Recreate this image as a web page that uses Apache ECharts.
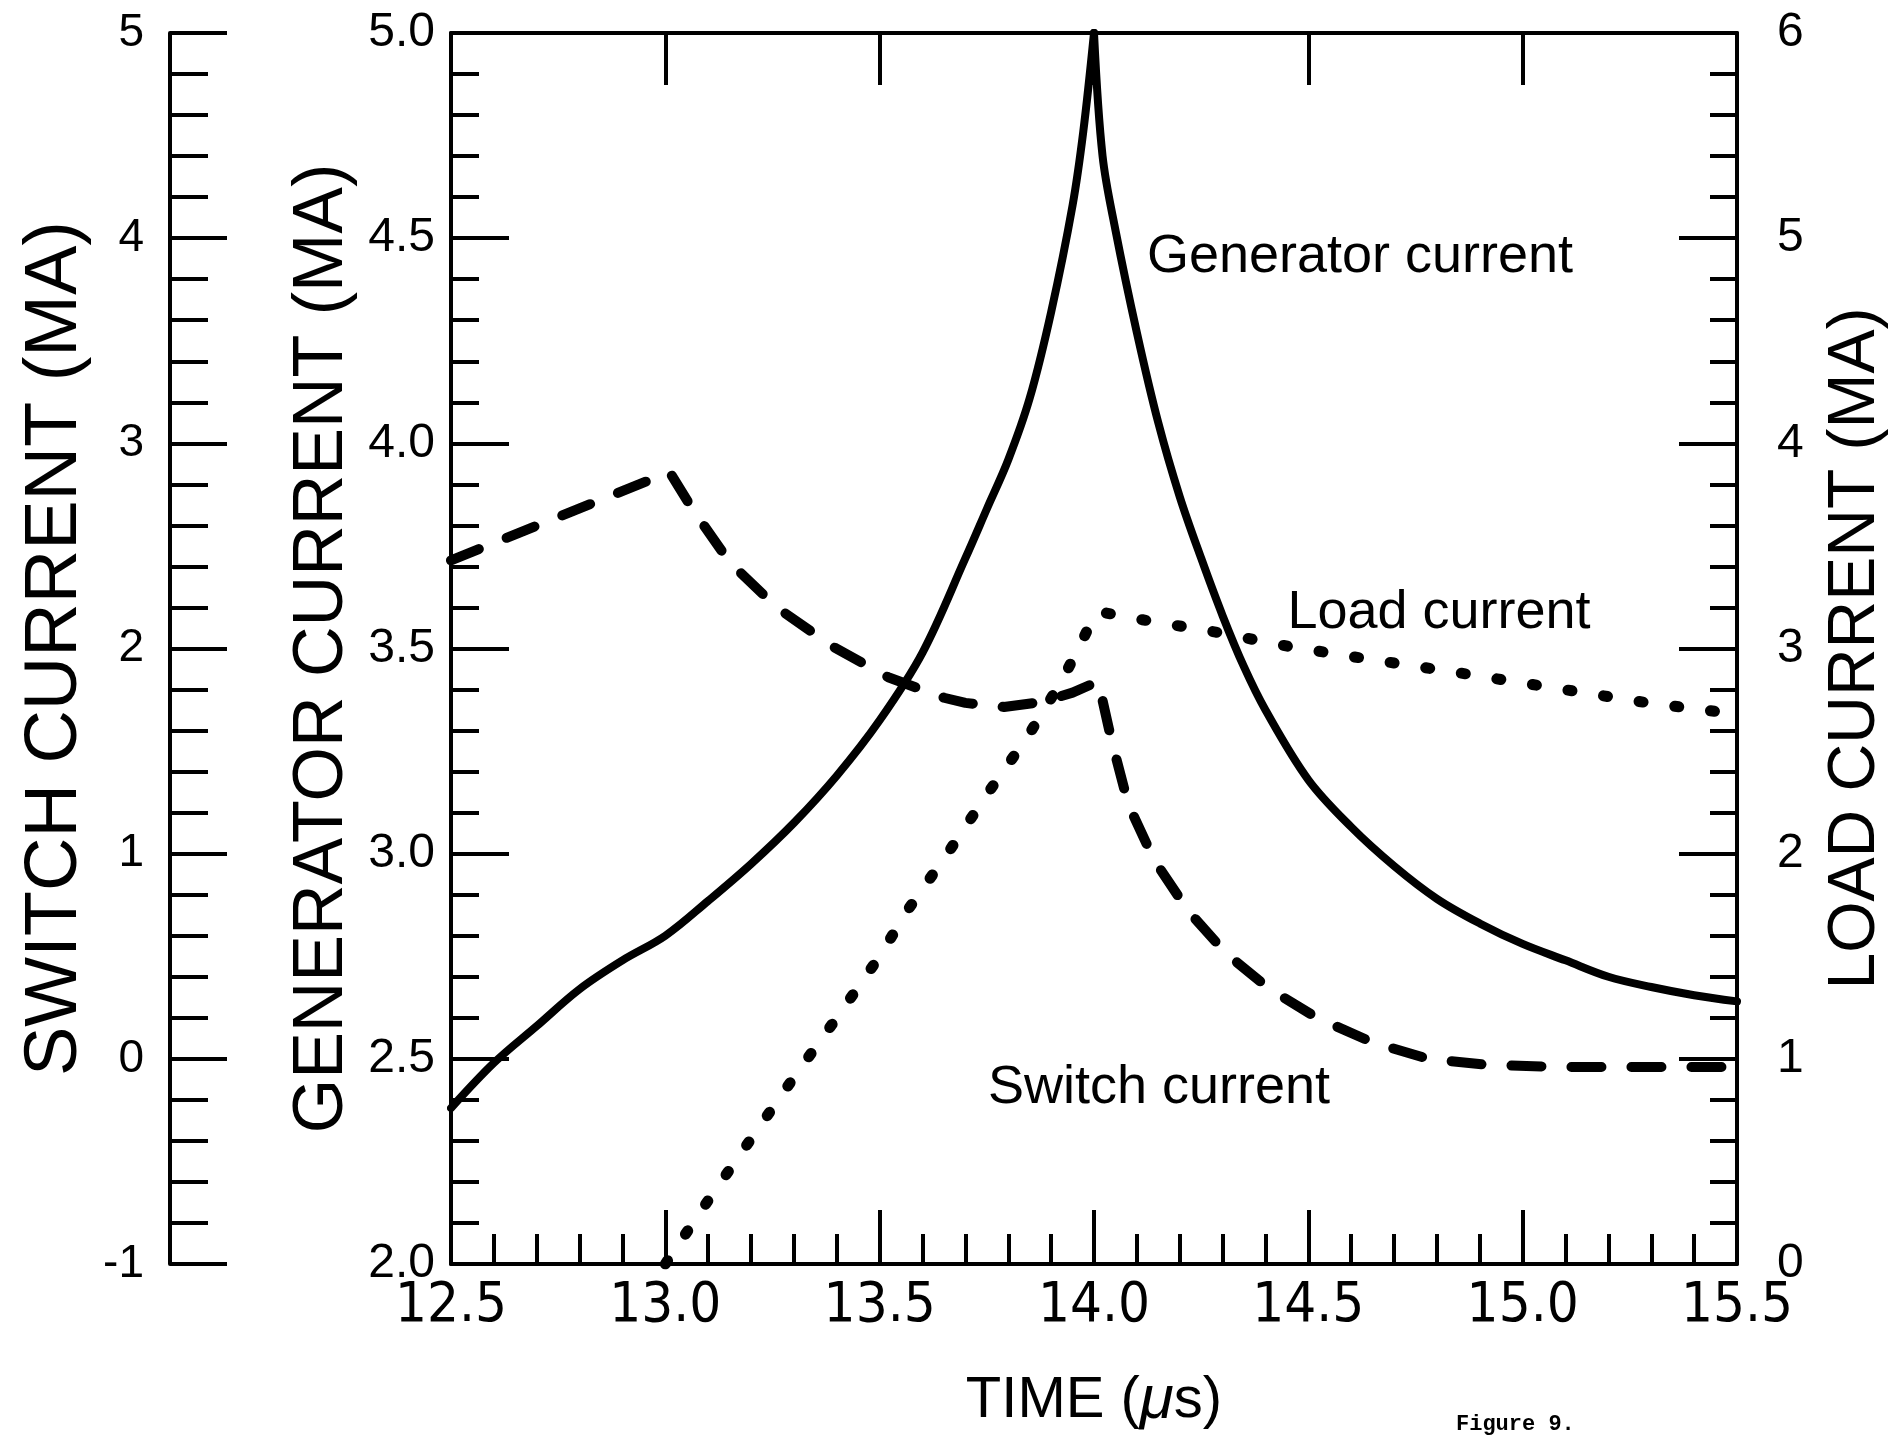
<!DOCTYPE html>
<html>
<head>
<meta charset="utf-8">
<script src="https://cdn.jsdelivr.net/npm/echarts@6/dist/echarts.min.js"></script>
<style>
html,body{margin:0;padding:0;background:#fff;}
#chart{width:1895px;height:1445px;}
</style>
</head>
<body>
<div id="chart"></div>
<script>
// ---------- data ----------
const timeTickLabels = ['12.5', '13.0', '13.5', '14.0', '14.5', '15.0', '15.5'];
const genTickLabels = ['2.0', '2.5', '3.0', '3.5', '4.0', '4.5', '5.0'];
const switchTickLabels = ['-1', '0', '1', '2', '3', '4', '5'];
const loadTickLabels = ['0', '1', '2', '3', '4', '5', '6'];

// Generator current (MA), solid
const genTime = [12.5, 12.6, 12.7, 12.8, 12.9, 13.0, 13.1, 13.2, 13.3, 13.4, 13.5, 13.6, 13.7, 13.75, 13.8, 13.85, 13.9, 13.95, 13.975, 14.0,
                 14.02, 14.05, 14.1, 14.15, 14.2, 14.25, 14.3, 14.35, 14.4, 14.5, 14.6, 14.7, 14.8, 14.9, 15.0, 15.1, 15.2, 15.3, 15.4, 15.5];
const genCurrent = [2.38, 2.49, 2.58, 2.67, 2.74, 2.80, 2.885, 2.975, 3.075, 3.19, 3.325, 3.49, 3.72, 3.84, 3.96, 4.11, 4.32, 4.58, 4.76, 5.0,
                    4.70, 4.52, 4.27, 4.05, 3.87, 3.72, 3.58, 3.455, 3.35, 3.18, 3.065, 2.97, 2.89, 2.83, 2.78, 2.74, 2.70, 2.675, 2.655, 2.64];

// Switch current (MA), long dashes
const switchTime = [12.5, 13.01, 13.06, 13.15, 13.26, 13.39, 13.52, 13.65, 13.70, 13.79, 13.88, 13.95, 14.01,
                    14.04, 14.08, 14.14, 14.22, 14.31, 14.41, 14.52, 14.65, 14.78, 14.92, 15.1, 15.5];
const switchCurrent = [2.43, 2.86, 2.69, 2.42, 2.20, 2.01, 1.86, 1.76, 1.735, 1.715, 1.74, 1.785, 1.84,
                       1.56, 1.24, 0.97, 0.72, 0.51, 0.34, 0.20, 0.08, 0.0, -0.03, -0.04, -0.04];

// Load current (MA), dots
const loadTime = [13.0, 13.1, 13.2, 13.3, 13.4, 13.5, 13.567, 13.658, 13.754, 13.845, 13.927, 13.992, 14.01,
                  14.113, 14.284, 14.454, 14.634, 14.856, 15.292, 15.5];
const loadCurrent = [0.0, 0.31, 0.61, 0.91, 1.20, 1.50, 1.73, 2.00, 2.30, 2.57, 2.85, 3.12, 3.18,
                     3.14, 3.08, 3.01, 2.95, 2.88, 2.735, 2.68];

// ---------- build ----------
const pairs = (xs, ys) => xs.map((x, i) => [x, ys[i]]);
const genPairs = pairs(genTime, genCurrent);
let peakIdx = 0;
genCurrent.forEach((v, i) => { if (v > genCurrent[peakIdx]) peakIdx = i; });
const genRise = genPairs.slice(0, peakIdx + 1);
const genFall = genPairs.slice(peakIdx);

const FONT = "'Liberation Sans', Arial, 'DejaVu Sans', sans-serif";
const NARROW = "'Liberation Sans Narrow', 'DejaVu Sans Condensed', 'Liberation Sans', sans-serif";
const BLACK = '#000';
const lineSt = { color: BLACK, width: 4 };

function labelFrom(list, min, step) {
  return function (v) {
    const i = Math.round((v - min) / step);
    return list[i] !== undefined ? list[i] : String(v);
  };
}

const chart = echarts.init(document.getElementById('chart'), null, { renderer: 'canvas' });

const option = {
  backgroundColor: '#ffffff',
  animation: false,
  grid: { left: 451, right: 158, top: 33, bottom: 181, containLabel: false, outerBoundsMode: 'none' },
  xAxis: [
    {
      type: 'value', position: 'bottom', min: 12.5, max: 15.5, interval: 0.5,
      axisLine: { show: true, onZero: false, lineStyle: lineSt },
      axisTick: { show: true, inside: true, length: 54, lineStyle: lineSt },
      minorTick: { show: true, splitNumber: 5, length: 30, lineStyle: lineSt },
      splitLine: { show: false },
      axisLabel: { show: true, margin: 14, color: BLACK, fontSize: 56, fontFamily: NARROW,
                   formatter: labelFrom(timeTickLabels, 12.5, 0.5) },
      name: 'TIME ({it|μ}s)', nameLocation: 'middle', nameGap: 106,
      nameTextStyle: { color: BLACK, fontSize: 58, fontFamily: FONT,
                       rich: { it: { fontStyle: 'italic', fontSize: 62, fontFamily: FONT, color: BLACK } } }
    },
    {
      type: 'value', position: 'top', min: 12.5, max: 15.5, interval: 0.5,
      axisLine: { show: true, onZero: false, lineStyle: lineSt },
      axisTick: { show: true, inside: true, length: 52, lineStyle: lineSt },
      axisLabel: { show: false }, splitLine: { show: false }
    }
  ],
  yAxis: [
    { // generator
      type: 'value', position: 'left', min: 2, max: 5, interval: 0.5,
      axisLine: { show: true, onZero: false, lineStyle: lineSt },
      axisTick: { show: true, inside: true, length: 58, lineStyle: lineSt },
      minorTick: { show: true, splitNumber: 5, length: 28, lineStyle: lineSt },
      splitLine: { show: false },
      axisLabel: { show: true, margin: 16, color: BLACK, fontSize: 48, fontFamily: FONT,
                   formatter: labelFrom(genTickLabels, 2, 0.5) },
      name: 'GENERATOR CURRENT (MA)', nameLocation: 'middle', nameGap: 84,
      nameTextStyle: { color: BLACK, fontSize: 70, fontFamily: FONT }
    },
    { // load
      type: 'value', position: 'right', min: 0, max: 6, interval: 1,
      axisLine: { show: true, onZero: false, lineStyle: lineSt },
      axisTick: { show: true, inside: true, length: 58, lineStyle: lineSt },
      minorTick: { show: true, splitNumber: 5, length: 27, lineStyle: lineSt },
      splitLine: { show: false },
      axisLabel: { show: true, margin: 40, color: BLACK, fontSize: 48, fontFamily: FONT,
                   formatter: labelFrom(loadTickLabels, 0, 1) },
      name: 'LOAD CURRENT (MA)', nameLocation: 'middle', nameGap: 86,
      nameTextStyle: { color: BLACK, fontSize: 66, fontFamily: FONT }
    },
    { // switch (separate scale at far left)
      type: 'value', position: 'left', offset: 281, min: -1, max: 5, interval: 1,
      axisLine: { show: true, onZero: false, lineStyle: lineSt },
      axisTick: { show: true, inside: true, length: 57, lineStyle: lineSt },
      minorTick: { show: true, splitNumber: 5, length: 38, lineStyle: lineSt },
      splitLine: { show: false },
      axisLabel: { show: true, margin: 26, color: BLACK, fontSize: 46, fontFamily: FONT,
                   formatter: labelFrom(switchTickLabels, -1, 1) },
      name: 'SWITCH CURRENT (MA)', nameLocation: 'middle', nameGap: 70,
      nameTextStyle: { color: BLACK, fontSize: 74, fontFamily: FONT }
    }
  ],
  series: [
    {
      name: 'Generator current', type: 'line', xAxisIndex: 0, yAxisIndex: 0,
      data: genRise, symbol: 'none', smooth: 0.35,
      lineStyle: { color: BLACK, width: 8, cap: 'round', join: 'round' }
    },
    {
      name: 'Generator current (fall)', type: 'line', xAxisIndex: 0, yAxisIndex: 0,
      data: genFall, symbol: 'none', smooth: 0.35,
      lineStyle: { color: BLACK, width: 8, cap: 'round', join: 'round' }
    },
    {
      name: 'Switch current', type: 'line', xAxisIndex: 0, yAxisIndex: 2,
      data: pairs(switchTime, switchCurrent), symbol: 'none', smooth: false,
      lineStyle: { color: BLACK, width: 10, type: [30, 30], cap: 'round', join: 'round' }
    },
    {
      name: 'Load current', type: 'line', xAxisIndex: 0, yAxisIndex: 1,
      data: pairs(loadTime, loadCurrent), symbol: 'none', smooth: false,
      lineStyle: { color: BLACK, width: 11, type: [4, 32], cap: 'round', join: 'round' }
    }
  ],
  graphic: [
    { type: 'text', x: 1360, y: 257, style: { text: 'Generator current', fill: BLACK, font: "54px 'Liberation Sans', Arial, sans-serif", align: 'center', verticalAlign: 'middle' } },
    { type: 'text', x: 1439, y: 613, style: { text: 'Load current', fill: BLACK, font: "54px 'Liberation Sans', Arial, sans-serif", align: 'center', verticalAlign: 'middle' } },
    { type: 'text', x: 1159, y: 1088, style: { text: 'Switch current', fill: BLACK, font: "54px 'Liberation Sans', Arial, sans-serif", align: 'center', verticalAlign: 'middle' } },
    { type: 'text', x: 1456, y: 1424, style: { text: 'Figure 9.', fill: BLACK, font: "bold 22px 'Liberation Mono', 'DejaVu Sans Mono', monospace", align: 'left', verticalAlign: 'middle' } }
  ]
};

chart.setOption(option);
</script>
</body>
</html>
